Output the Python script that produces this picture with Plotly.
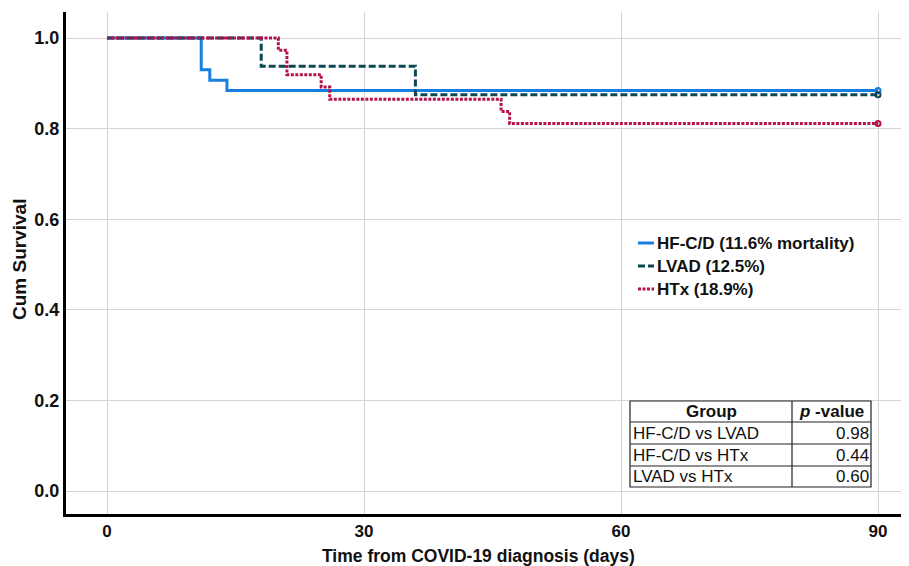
import plotly.graph_objects as go

# ---- data ----
hf_t = [0, 11, 12, 14, 90]
hf_s = [1.0, 0.930, 0.907, 0.884, 0.884]
lvad_t = [0, 18, 36, 90]
lvad_s = [1.0, 0.9375, 0.875, 0.875]
htx_t = [0, 20, 21, 25, 26, 46, 47, 90]
htx_s = [1.0, 0.973, 0.919, 0.892, 0.865, 0.838, 0.811, 0.811]

series_names = ["HF-C/D (11.6% mortality)", "LVAD (12.5%)", "HTx (18.9%)"]
x_ticks = [0, 30, 60, 90]
y_ticks = [0.0, 0.2, 0.4, 0.6, 0.8, 1.0]

table_header = ["Group", "p -value"]
table_groups = ["HF-C/D vs LVAD", "HF-C/D vs HTx", "LVAD vs HTx"]
table_pvals = ["0.98", "0.44", "0.60"]

colors = ["#1A7DE0", "#0C4753", "#B3124E"]
dashes = ["solid", "7px,3px", "3px,1.5px"]

FONT = "Liberation Sans, Arial, sans-serif"

# ---- layout geometry (page pixels; page has an 8px body margin) ----
W, H = 909, 566
OFF = 8
PL, PT, PR, PB = 66, 12, 909, 514
L, T = PL - OFF, PT - OFF
R, B = W - (PR - OFF), H - (PB - OFF)
pw, ph = PR - PL, PB - PT

# data -> page mapping: x0=107px, 90 days=878px; y1.0=38px, y0.0=491px
xs = (878 - 107) / 90.0
ys = (491 - 38) / 1.0
x_range = [(PL - 107) / xs, (PR - 107) / xs]
y_range = [(491 - PB) / ys, (491 - PT) / ys]


def px(xp):
    return (xp - PL) / pw


def py(yp):
    return 1 - (yp - PT) / ph


fig = go.Figure()
for t, s, c, d, n in [(hf_t, hf_s, colors[0], dashes[0], series_names[0]),
                      (lvad_t, lvad_s, colors[1], dashes[1], series_names[1]),
                      (htx_t, htx_s, colors[2], dashes[2], series_names[2])]:
    fig.add_trace(go.Scatter(x=t, y=s, mode="lines", line=dict(color=c, width=3, dash=d, shape="hv"),
                             name=n, showlegend=False, hoverinfo="skip"))
    fig.add_trace(go.Scatter(x=[t[-1]], y=[s[-1]], mode="markers",
                             marker=dict(symbol="circle-open", size=5, color=c, line=dict(width=2)),
                             showlegend=False, hoverinfo="skip"))

shapes = []
annotations = []

# ---- manual legend ----
leg_rows = [243, 266, 289]
for i, (n, c, d) in enumerate(zip(series_names, colors, dashes)):
    yy = py(leg_rows[i])
    shapes.append(dict(type="line", xref="paper", yref="paper", x0=px(638), x1=px(654), y0=yy, y1=yy,
                       line=dict(color=c, width=3, dash=d)))
    annotations.append(dict(xref="paper", yref="paper", x=px(655), y=yy, text="<b>%s</b>" % n,
                            showarrow=False, xanchor="left", yanchor="middle",
                            font=dict(family=FONT, size=17, color="#111")))

# ---- p-value table ----
tx0, tx1, tmid = 630, 871, 792
rows_y = [401, 422, 444, 466, 487]
shapes.append(dict(type="rect", xref="paper", yref="paper", x0=px(tx0), x1=px(tx1), y0=py(rows_y[-1]), y1=py(rows_y[0]),
                   line=dict(color="#222", width=1.2), fillcolor="white", layer="above"))
for yv in rows_y[1:-1]:
    shapes.append(dict(type="line", xref="paper", yref="paper", x0=px(tx0), x1=px(tx1), y0=py(yv), y1=py(yv),
                       line=dict(color="#222", width=1.2)))
shapes.append(dict(type="line", xref="paper", yref="paper", x0=px(tmid), x1=px(tmid), y0=py(rows_y[-1]), y1=py(rows_y[0]),
                   line=dict(color="#222", width=1.2)))
hy = py((rows_y[0] + rows_y[1]) / 2)
annotations.append(dict(xref="paper", yref="paper", x=px((tx0 + tmid) / 2), y=hy, text="<b>%s</b>" % table_header[0],
                        showarrow=False, xanchor="center", yanchor="middle", font=dict(family=FONT, size=17, color="#111")))
annotations.append(dict(xref="paper", yref="paper", x=px((tmid + tx1) / 2), y=hy,
                        text="<b><i>p</i> -value</b>", showarrow=False, xanchor="center", yanchor="middle",
                        font=dict(family=FONT, size=17, color="#111")))
for i, (g, p) in enumerate(zip(table_groups, table_pvals)):
    yy = py((rows_y[i + 1] + rows_y[i + 2]) / 2)
    annotations.append(dict(xref="paper", yref="paper", x=px(tx0 + 1), y=yy, text=g, showarrow=False,
                            xanchor="left", yanchor="middle", font=dict(family=FONT, size=17, color="#111")))
    annotations.append(dict(xref="paper", yref="paper", x=px(tx1), y=yy, text=p, showarrow=False,
                            xanchor="right", yanchor="middle", font=dict(family=FONT, size=17, color="#111")))

# ---- axis titles ----
annotations.append(dict(xref="paper", yref="paper", x=px(478), y=py(556),
                        text="<b>Time from COVID-19 diagnosis (days)</b>", showarrow=False,
                        xanchor="center", yanchor="middle", font=dict(family=FONT, size=17.5, color="#111")))
annotations.append(dict(xref="paper", yref="paper", x=px(19), y=py(260),
                        text="<b>Cum Survival</b>", showarrow=False, textangle=-90,
                        xanchor="center", yanchor="middle", font=dict(family=FONT, size=19, color="#111")))

fig.update_layout(
    width=W, height=H,
    margin=dict(l=L, r=R, t=T, b=B, autoexpand=False),
    paper_bgcolor="white", plot_bgcolor="white",
    shapes=shapes, annotations=annotations,
    font=dict(family=FONT, color="#111"),
)
fig.update_xaxes(range=x_range, tickvals=x_ticks, ticktext=["<b>%d</b>" % v for v in x_ticks],
                 tickfont=dict(size=17, family=FONT, color="#111"),
                 showgrid=True, gridcolor="#d4d4d4", gridwidth=1, zeroline=False, automargin=False,
                 showline=True, linecolor="black", linewidth=3, ticks="", ticklen=0)
fig.update_yaxes(range=y_range, tickvals=y_ticks, ticktext=["<b>%.1f</b>" % v for v in y_ticks],
                 tickfont=dict(size=18, family=FONT, color="#111"),
                 showgrid=True, gridcolor="#d4d4d4", gridwidth=1, zeroline=False, automargin=False,
                 showline=True, linecolor="black", linewidth=3, ticks="", ticklen=0)

fig.write_html("out.html")
